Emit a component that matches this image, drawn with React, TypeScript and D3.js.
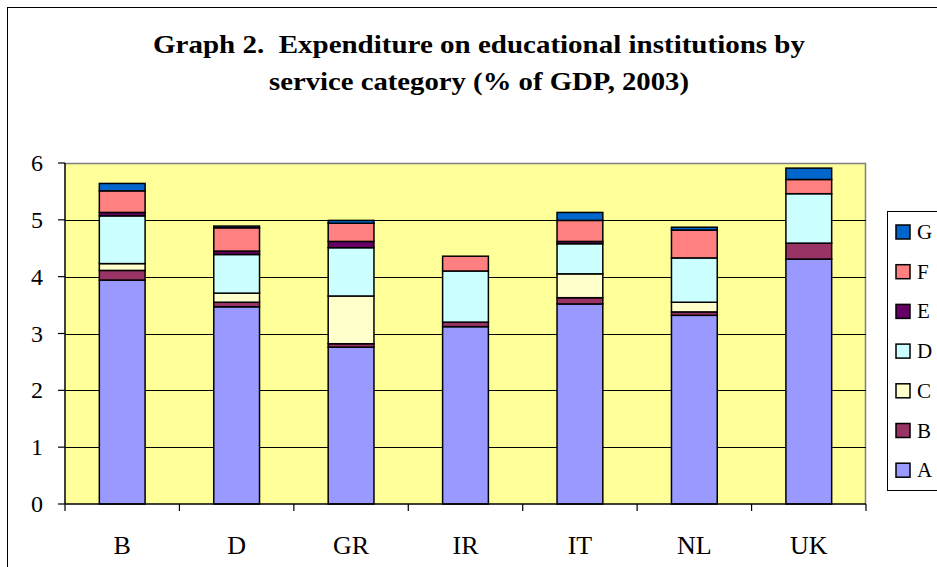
import React from "react";
import * as d3 from "d3";

const categories = ["B", "D", "GR", "IR", "IT", "NL", "UK"];
const seriesKeys = ["A", "B", "C", "D", "E", "F", "G"];
const seriesA = [3.94, 3.47, 2.76, 3.12, 3.52, 3.32, 4.31];
const seriesB = [0.17, 0.08, 0.06, 0.08, 0.11, 0.06, 0.28];
const seriesC = [0.12, 0.16, 0.84, 0.0, 0.42, 0.17, 0.0];
const seriesD = [0.84, 0.68, 0.85, 0.9, 0.53, 0.78, 0.87];
const seriesE = [0.06, 0.06, 0.11, 0.0, 0.04, 0.0, 0.0];
const seriesF = [0.38, 0.41, 0.32, 0.26, 0.37, 0.49, 0.25];
const seriesG = [0.13, 0.03, 0.05, 0.0, 0.14, 0.05, 0.2];
const yTicks = [0, 1, 2, 3, 4, 5, 6];
const titleLines = [
  "Graph 2.  Expenditure on educational institutions by",
  "service category (% of GDP, 2003)",
];
const titleWidths = [652, 420];
const colors: Record<string, string> = {
  A: "#9999FF",
  B: "#993366",
  C: "#FFFFCC",
  D: "#CCFFFF",
  E: "#660066",
  F: "#FF8080",
  G: "#0066CC",
};

const allSeries = [seriesA, seriesB, seriesC, seriesD, seriesE, seriesF, seriesG];
const rows = categories.map((c, i) => {
  const r: any = { cat: c };
  seriesKeys.forEach((k, j) => (r[k] = allSeries[j][i]));
  return r;
});

const FONT = "'Liberation Serif', 'Times New Roman', serif";

export default function App() {
  const W = 937;
  const H = 567;
  const left = 65;
  const right = 866;
  const top = 163;
  const bottom = 504;

  const x = d3.scaleBand<string>().domain(categories).range([left, right]).padding(0);
  const y = d3.scaleLinear().domain([0, 6]).range([bottom, top]);
  const stacked = d3.stack<any>().keys(seriesKeys)(rows);
  const bw = x.bandwidth() * 0.4;

  const boundaries = categories.map((c) => x(c)!).concat([right]);

  return (
    <svg
      width={W}
      height={H}
      style={{ position: "absolute", left: 0, top: 0, background: "#fff" }}
      fontFamily={FONT}
    >
      <rect x={7.5} y={7.5} width={W + 20} height={H + 20} fill="#fff" stroke="#000" strokeWidth={1} />
      {titleLines.map((t, i) => (
        <text
          key={i}
          x={479}
          y={53 + i * 37}
          textAnchor="middle"
          fontWeight="bold"
          fontSize={26}
          fill="#000"
          textLength={titleWidths[i]}
          lengthAdjust="spacingAndGlyphs"
          style={{ whiteSpace: "pre" }}
        >
          {t}
        </text>
      ))}
      <rect x={left} y={top} width={right - left} height={bottom - top} fill="#FFFF99" />
      <path
        d={`M${left},${top + 0.5}H${right - 0.5}V${bottom}`}
        fill="none"
        stroke="#808080"
        strokeWidth={1.5}
      />
      {yTicks
        .filter((t) => t > 0 && t < 6)
        .map((t) => (
          <line key={t} x1={left} x2={right} y1={Math.round(y(t)) + 0.5} y2={Math.round(y(t)) + 0.5} stroke="#000" strokeWidth={1} />
        ))}
      {stacked.map((s) => (
        <g key={s.key} fill={colors[s.key]}>
          {s.map((d, i) =>
            d[1] - d[0] > 0 ? (
              <rect
                key={i}
                x={x(categories[i])! + (x.bandwidth() - bw) / 2}
                y={y(d[1])}
                width={bw}
                height={y(d[0]) - y(d[1])}
                stroke="#000"
                strokeWidth={1.5}
              />
            ) : null
          )}
        </g>
      ))}
      <line x1={left} x2={left} y1={top} y2={bottom} stroke="#000" strokeWidth={1.5} />
      <line x1={left} x2={right} y1={bottom} y2={bottom} stroke="#000" strokeWidth={1.5} />
      {yTicks.map((t) => (
        <g key={t}>
          <line x1={left - 7} x2={left} y1={y(t)} y2={y(t)} stroke="#000" strokeWidth={1.2} />
          <text x={37} y={y(t) + 8} textAnchor="middle" fontSize={24} fill="#000">
            {t}
          </text>
        </g>
      ))}
      {boundaries.map((b, i) => (
        <line key={i} x1={b} x2={b} y1={bottom} y2={bottom + 7} stroke="#000" strokeWidth={1.2} />
      ))}
      {categories.map((c) => (
        <text key={c} x={x(c)! + x.bandwidth() / 2} y={554} textAnchor="middle" fontSize={26} fill="#000">
          {c}
        </text>
      ))}
      <rect x={887.5} y={211.5} width={80} height={279} fill="#fff" stroke="#000" strokeWidth={1} />
      {[...seriesKeys].reverse().map((k, i) => {
        const cy = 232 + i * 39.7;
        return (
          <g key={k}>
            <rect x={896} y={cy - 7} width={14} height={14} fill={colors[k]} stroke="#000" strokeWidth={1.5} />
            <text x={917} y={cy + 7} fontSize={21} fill="#000">
              {k}
            </text>
          </g>
        );
      })}
    </svg>
  );
}
